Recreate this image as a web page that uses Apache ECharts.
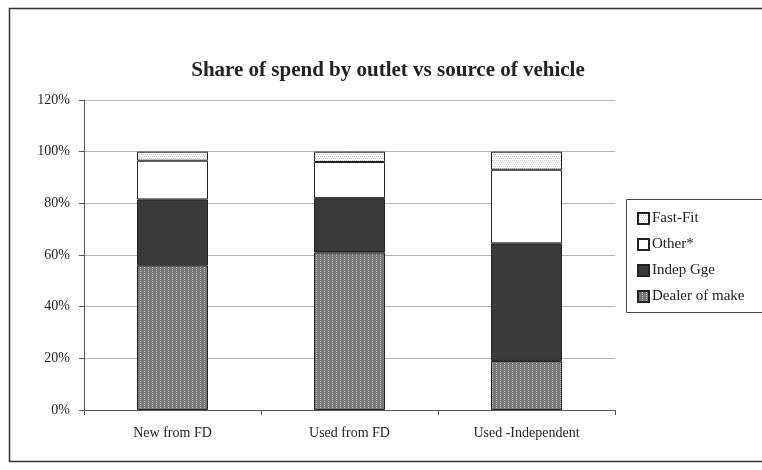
<!DOCTYPE html>
<html>
<head>
<meta charset="utf-8">
<script src="https://cdn.jsdelivr.net/npm/echarts@6/dist/echarts.min.js"></script>
<style>
  html, body { margin: 0; padding: 0; background: #fff; }
  #chart { width: 762px; height: 470px; }
</style>
</head>
<body>
<div id="chart"></div>
<script>
const categories = ["New from FD", "Used from FD", "Used -Independent"];
const dealerOfMake = [56, 61, 19];
const indepGge = [25.5, 21, 45.5];
const other = [15, 14, 28.5];
const fastFit = [3.5, 4, 7];
const yTicks = [0, 20, 40, 60, 80, 100, 120];

const chart = echarts.init(document.getElementById("chart"), null, { renderer: "canvas" });

// small stipple textures for the patterned fills
function stipple(bg, dot, step) {
  const c = document.createElement("canvas");
  c.width = 4; c.height = 4;
  const g = c.getContext("2d");
  g.fillStyle = bg; g.fillRect(0, 0, 4, 4);
  g.fillStyle = dot;
  for (let y = 0; y < 4; y += step) {
    for (let x = (y / step) % 2; x < 4; x += step) g.fillRect(x, y, 1, 1);
  }
  return c;
}
const dealerFill = { image: stipple("#c0c0c0", "#787878", 1), repeat: "repeat" };
const fastFill = { image: stipple("#ffffff", "#c8c8c8", 2), repeat: "repeat" };

const font = "'Liberation Serif', 'DejaVu Serif', serif";
const border = { borderColor: "#222", borderWidth: 1 };

const option = {
  animation: false,
  textStyle: { fontFamily: font },
  title: {
    text: "Share of spend by outlet vs source of vehicle",
    left: 383, top: 55, textAlign: "center",
    textStyle: { fontFamily: font, fontSize: 21, fontWeight: "bold", color: "#222" }
  },
  graphic: [
    { type: "rect", shape: { x: 9.5, y: 8.5, width: 770, height: 453 },
      style: { fill: "none", stroke: "#333", lineWidth: 1.5 } },
    { type: "rect", shape: { x: 626.5, y: 199.5, width: 150, height: 113 },
      style: { fill: "#fff", stroke: "#444", lineWidth: 1 } }
  ],
  legend: {
    orient: "vertical",
    left: 632, top: 206,
    icon: "rect",
    itemWidth: 11, itemHeight: 11, itemGap: 11,
    data: ["Fast-Fit", "Other*", "Indep Gge", "Dealer of make"],
    textStyle: { fontFamily: font, fontSize: 15, color: "#222", padding: [0, 0, 0, -2] }
  },
  grid: { left: 84, right: 147, top: 100, bottom: 60 },
  xAxis: {
    type: "category",
    data: categories,
    axisLine: { lineStyle: { color: "#555" } },
    axisTick: { show: true, length: 5, lineStyle: { color: "#555" } },
    axisLabel: { fontFamily: font, fontSize: 14, color: "#222", margin: 16 }
  },
  yAxis: {
    type: "value",
    min: yTicks[0], max: yTicks[yTicks.length - 1], interval: 20,
    axisLine: { show: true, lineStyle: { color: "#555" } },
    axisTick: { show: true, length: 5, lineStyle: { color: "#555" } },
    axisLabel: { formatter: "{value}%", fontFamily: font, fontSize: 14, color: "#222", margin: 14 },
    splitLine: { lineStyle: { color: "#b4b4b4", width: 1 } }
  },
  series: [
    { name: "Dealer of make", type: "bar", stack: "s", data: dealerOfMake, barWidth: 71,
      itemStyle: Object.assign({ color: dealerFill }, border) },
    { name: "Indep Gge", type: "bar", stack: "s", data: indepGge,
      itemStyle: Object.assign({ color: "#3a3a3a" }, border) },
    { name: "Other*", type: "bar", stack: "s", data: other,
      itemStyle: Object.assign({ color: "#ffffff" }, border) },
    { name: "Fast-Fit", type: "bar", stack: "s", data: fastFit,
      itemStyle: Object.assign({ color: fastFill }, border) }
  ]
};

chart.setOption(option);
</script>
</body>
</html>
